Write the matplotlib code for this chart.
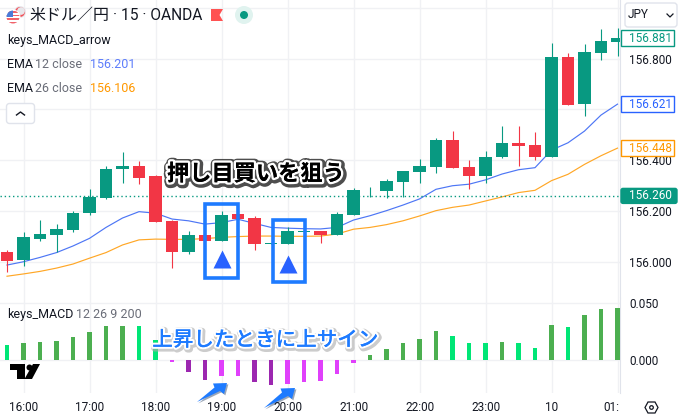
import matplotlib
matplotlib.use("Agg")
import matplotlib.pyplot as plt
import matplotlib.patheffects as pe
from matplotlib.patches import Circle, FancyBboxPatch, Polygon, Rectangle
from matplotlib.transforms import Bbox, TransformedBbox

JP = ["Noto Sans CJK JP", "DejaVu Sans"]
plt.rcParams["font.family"] = ["Roboto", "DejaVu Sans"]

# * Candles, one per 15 minutes, first one is 15:45
bar_idx = list(range(-1, 37))
bar_open = [156.039, 156.008, 156.090, 156.107, 156.126, 156.193, 156.252, 156.367, 156.378, 156.338,
            156.161, 156.039, 156.106, 156.083, 156.189, 156.173, 156.071, 156.071, 156.118, 156.122,
            156.106, 156.186, 156.283, 156.279, 156.315, 156.354, 156.375, 156.480, 156.374, 156.338,
            156.413, 156.468, 156.460, 156.414, 156.806, 156.621, 156.822, 156.865]
bar_close = [156.005, 156.098, 156.110, 156.130, 156.193, 156.256, 156.366, 156.378, 156.330, 156.159,
             156.040, 156.106, 156.083, 156.185, 156.169, 156.071, 156.075, 156.122, 156.122, 156.106,
             156.189, 156.283, 156.285, 156.319, 156.358, 156.378, 156.480, 156.371, 156.338, 156.413,
             156.468, 156.456, 156.414, 156.806, 156.617, 156.826, 156.869, 156.881]
bar_high = [156.047, 156.118, 156.165, 156.150, 156.200, 156.287, 156.378, 156.433, 156.397, 156.342,
            156.165, 156.122, 156.106, 156.200, 156.189, 156.181, 156.075, 156.138, 156.122, 156.122,
            156.197, 156.291, 156.294, 156.327, 156.358, 156.405, 156.488, 156.515, 156.401, 156.437,
            156.535, 156.535, 156.511, 156.861, 156.822, 156.858, 156.917, 156.920]
bar_low = [155.962, 155.985, 156.083, 156.040, 156.118, 156.186, 156.248, 156.312, 156.308, 156.159,
           155.978, 156.033, 156.083, 156.083, 156.169, 156.047, 156.071, 156.071, 156.118, 156.076,
           156.106, 156.186, 156.257, 156.252, 156.257, 156.312, 156.351, 156.371, 156.287, 156.311,
           156.410, 156.378, 156.400, 156.414, 156.617, 156.574, 156.795, 156.810]

ema12 = [155.988, 156.001, 156.018, 156.037, 156.063, 156.093, 156.136, 156.173, 156.198, 156.192,
         156.169, 156.162, 156.149, 156.155, 156.168, 156.152, 156.136, 156.133, 156.131, 156.130,
         156.136, 156.165, 156.182, 156.202, 156.224, 156.248, 156.286, 156.300, 156.306, 156.323,
         156.346, 156.363, 156.371, 156.440, 156.469, 156.515, 156.578, 156.621]
ema26 = [155.944, 155.953, 155.963, 155.976, 155.992, 156.015, 156.037, 156.067, 156.087, 156.090,
         156.089, 156.089, 156.092, 156.097, 156.100, 156.102, 156.102, 156.101, 156.101, 156.102,
         156.110, 156.129, 156.136, 156.147, 156.162, 156.181, 156.202, 156.215, 156.224, 156.240,
         156.256, 156.273, 156.282, 156.320, 156.345, 156.384, 156.418, 156.448]

# * MACD histogram, state picks the colour
macd_hist = [0.0132, 0.0149, 0.0158, 0.0167, 0.0202, 0.0246, 0.0298, 0.0298, 0.0298, 0.0175,
             -0.0023, -0.0111, -0.0175, -0.0146, -0.0146, -0.0199, -0.0225, -0.0216, -0.0193, -0.0184,
             -0.0123, -0.0032, 0.0044, 0.0096, 0.0149, 0.0184, 0.0254, 0.0211, 0.0149, 0.0149,
             0.0158, 0.0149, 0.0105, 0.0307, 0.0289, 0.0395, 0.0447, 0.0456]
macd_state = ["b", "g", "g", "g", "g", "g", "g", "g", "b", "b",
              "p", "v", "v", "p", "p", "v", "v", "p", "p", "p",
              "p", "p", "g", "g", "g", "g", "g", "b", "b", "b",
              "g", "b", "b", "g", "b", "g", "g", "g"]
state_colors = {"g": "#4caf50", "b": "#00e676", "v": "#9c27b0", "p": "#e040fb"}

# 156.600 and 157.000 sit under the tag and the JPY button, so no label there
price_ticks = [156.0, 156.2, 156.4, 156.6, 156.8, 157.0]
price_labels = ["156.000", "156.200", "156.400", "", "156.800", ""]
macd_ticks = [0.0, 0.05]
time_ticks = [0, 4, 8, 12, 16, 20, 24, 28, 32, 36]
time_labels = ["16:00", "17:00", "18:00", "19:00", "20:00", "21:00", "22:00", "23:00", "10", "01:00"]

signal_bars = [12, 16]
signal_prices = [156.012, 155.994]

GREEN = "#089981"
RED = "#f23645"
BLUE = "#2962ff"
ORANGE = "#ff9800"
GRID = "#f0f1f4"
BORDER = "#e0e3eb"
TEXT = "#131722"
GREY = "#6a6d78"
MARK = "#1e7bff"

W, H = 680, 420
fig = plt.figure(figsize=(W / 100, H / 100), dpi=100, facecolor="white")


def px_axes(left, top, right, bottom):
    return fig.add_axes([left / W, 1 - bottom / H, (right - left) / W, (bottom - top) / H])


ax = px_axes(0, 0, 620, 297.5)
sub = px_axes(0, 298, 620, 393)
for a in (ax, sub):
    a.set_xlim(-23.5 / 16.5, (620 - 23.5) / 16.5)
    a.set_xticks(time_ticks)
    a.grid(True, color=GRID, lw=1)
    a.set_axisbelow(True)
    a.yaxis.tick_right()
    a.tick_params(length=0, labelsize=8.5, labelcolor=TEXT)
    for s in ("top", "left", "bottom"):
        a.spines[s].set_visible(False)
    a.spines["right"].set_color(BORDER)
ax.tick_params(labelbottom=False)
ax.tick_params(axis="y", pad=6.5)
sub.tick_params(axis="y", pad=6.5)
sub.tick_params(axis="x", pad=6)

# * Price pane
ax.set_ylim(155.8603, 157.0307)
ax.set_yticks(price_ticks)
ax.set_yticklabels(price_labels)

ax.plot(bar_idx, ema12, color="#4d76f5", lw=0.85, zorder=2)
ax.plot(bar_idx, ema26, color="#ffa726", lw=0.85, zorder=2)
ax.axhline(156.26, color=GREEN, lw=1, ls=(0, (1, 2)), zorder=2)

for i, o, h, l, c in zip(bar_idx, bar_open, bar_high, bar_low, bar_close):
    col = GREEN if c >= o else RED
    ax.vlines(i, l, h, color=col, lw=0.8, zorder=3)
    ax.bar(i, abs(c - o), bottom=min(o, c), width=0.78, color=col, lw=0, zorder=3)

ax.plot(signal_bars, signal_prices, ls="", marker="^", ms=12.5, mec="none", color=BLUE, zorder=4)

# * MACD pane
sub.set_ylim(-0.0292, 0.0541)
sub.set_yticks(macd_ticks)
sub.set_yticklabels([f"{v:.3f}" for v in macd_ticks])
sub.set_xticklabels(time_labels)
sub.bar(bar_idx, macd_hist, width=0.3, color=[state_colors[s] for s in macd_state], lw=0, zorder=3)
# last time label gets cut by the price scale
sub.get_xticklabels()[-1].set_clip_box(TransformedBbox(Bbox([[0, 0], [619 / W, 1]]), fig.transFigure))
sub.get_xticklabels()[-1].set_clip_on(True)

# * Overlay in pixel coords for the header, price tags and the hand drawn marks
ov = fig.add_axes([0, 0, 1, 1], zorder=10)
ov.set_xlim(0, W)
ov.set_ylim(H, 0)
ov.axis("off")
ov.patch.set_alpha(0)


def round_box(x0, y0, x1, y1, ec, fc="white", lw=1.0, r=3, z=5):
    ov.add_patch(FancyBboxPatch((x0, y0), x1 - x0, y1 - y0, boxstyle=f"round,pad=0,rounding_size={r}",
                                ec=ec, fc=fc, lw=lw, zorder=z))


def price_tag(price, col, filled=False):
    y = H - ax.transData.transform((0, price))[1]
    if filled:
        round_box(621, y - 7.5, 677, y + 7.5, col, col, r=2)
        ov.text(650, y, f"{price:.3f}", color="white", fontsize=8.5, ha="center", va="center", zorder=6)
    else:
        ov.add_patch(Rectangle((621, y - 8), 53, 16, ec=col, fc="white", lw=1, zorder=5))
        ov.text(650, y, f"{price:.3f}", color=col, fontsize=8.5, ha="center", va="center", zorder=6)


price_tag(bar_close[-1], GREEN)
price_tag(ema12[-1], BLUE)
price_tag(ema26[-1], ORANGE)
price_tag(156.260, GREEN, filled=True)

# JPY button
round_box(625, 3, 677, 27, BORDER)
ov.text(628, 15, "JPY", color=TEXT, fontsize=8.5, va="center", zorder=6)
ov.plot([667, 670, 673], [14, 17, 14], color=TEXT, lw=0.9, zorder=6)

# flag icon, yen coin behind it
ov.add_patch(Circle((20, 12), 6, fc="#e8e8ec", lw=0, zorder=2))
coin = Circle((20, 12), 5, transform=ov.transData)
r = ov.add_patch(Circle((21, 11), 5, fc="none", ec="#f0525a", lw=1.6, zorder=3))
r.set_clip_path(coin)
ov.add_patch(Circle((13, 17), 7.5, fc="white", lw=0, zorder=4))
flag = Circle((13, 17), 6.5, transform=ov.transData)
for k in range(4):
    r = ov.add_patch(Rectangle((6, 11 + k * 3.6), 14, 1.8, fc="#f0626a", lw=0, zorder=5))
    r.set_clip_path(flag)
r = ov.add_patch(Rectangle((6, 10), 7, 7, fc="#4a7bd8", lw=0, zorder=6))
r.set_clip_path(flag)

# title
ov.text(29, 15.5, "米ドル／円", family=JP, color=TEXT, fontsize=11.5, va="center")
ov.text(113, 15.5, "· 15 · OANDA", color=TEXT, fontsize=11.2, va="center")
ov.add_patch(Polygon([(211, 9), (223, 9), (219.5, 15), (223, 21), (211, 21)], fc="#ff5252", lw=0))
ov.add_patch(Circle((244, 15), 9, fc="#e0f3ef", lw=0))
ov.add_patch(Circle((244, 15), 4, fc=GREEN, lw=0))

# legend
ov.text(7, 40.5, "keys_MACD_arrow", color=TEXT, fontsize=9, va="center")
ov.text(7, 64.5, "EMA", color=TEXT, fontsize=9, va="center")
ov.text(35, 64.5, "12 close", color=GREY, fontsize=9, va="center")
ov.text(90, 64.5, "156.201", color="#5d7dfb", fontsize=9, va="center")
ov.text(7, 88.5, "EMA", color=TEXT, fontsize=9, va="center")
ov.text(35, 88.5, "26 close", color=GREY, fontsize=9, va="center")
ov.text(90, 88.5, "156.106", color=ORANGE, fontsize=9, va="center")
round_box(6.5, 103.5, 34.5, 123.5, BORDER)
ov.plot([16.5, 20.5, 24.5], [115, 112, 115], color=TEXT, lw=1, zorder=6)
ov.text(7, 314.5, "keys_MACD", color=TEXT, fontsize=9, va="center")
ov.text(76, 314.5, "12 26 9 200", color=GREY, fontsize=9, va="center")

# TradingView logo
ov.add_patch(Polygon([(10, 364), (25, 364), (25, 379), (17, 379), (17, 370), (10, 370)], fc="black", lw=0))
ov.add_patch(Circle((29.5, 367.5), 3, fc="black", lw=0))
ov.add_patch(Polygon([(33, 364), (40, 364), (32, 379), (24.5, 379)], fc="black", lw=0))

# settings icon
ov.add_patch(Polygon([(645, 407.5), (648, 402), (655, 402), (658, 407.5), (655, 413), (648, 413)],
                     fc="white", ec=TEXT, lw=0.9))
ov.add_patch(Circle((651.5, 407.5), 1.8, fc="white", ec=TEXT, lw=0.9))

# hand drawn boxes and arrows
ov.add_patch(Rectangle((204.5, 203.5), 33, 74, fc="none", ec=MARK, lw=2.6, zorder=7))
ov.add_patch(Rectangle((273, 219.5), 32, 62, fc="none", ec=MARK, lw=2.6, zorder=7))
shadow = [pe.SimplePatchShadow(offset=(1, -1), alpha=0.4), pe.Normal()]
ov.add_patch(Polygon([(197, 402), (214.5, 387.5), (213, 383.5), (227, 383), (224, 394), (220, 391)],
                     fc=MARK, lw=0, zorder=7, path_effects=shadow))
ov.add_patch(Polygon([(264, 408), (282, 392.5), (280.5, 388.5), (295, 388), (292, 399), (288, 396)],
                     fc=MARK, lw=0, zorder=7, path_effects=shadow))

# captions
ov.text(256, 174, "押し目買いを狙う", family=JP, color="black", fontsize=16, fontweight="bold",
        ha="center", va="center", zorder=8,
        path_effects=[pe.Stroke(linewidth=7, foreground="#222222", offset=(0.7, -0.7), alpha=0.8),
                      pe.withStroke(linewidth=3.5, foreground="white"), pe.Normal()])
ov.text(265, 340, "上昇したときに上サイン", family=JP, color=MARK, fontsize=14.8, fontweight="medium",
        ha="center", va="center", zorder=8,
        path_effects=[pe.Stroke(linewidth=5, foreground="#aaaaaa", offset=(1, -1), alpha=0.6),
                      pe.withStroke(linewidth=3, foreground="white"), pe.Normal()])

fig.savefig("out.png", dpi=100)
